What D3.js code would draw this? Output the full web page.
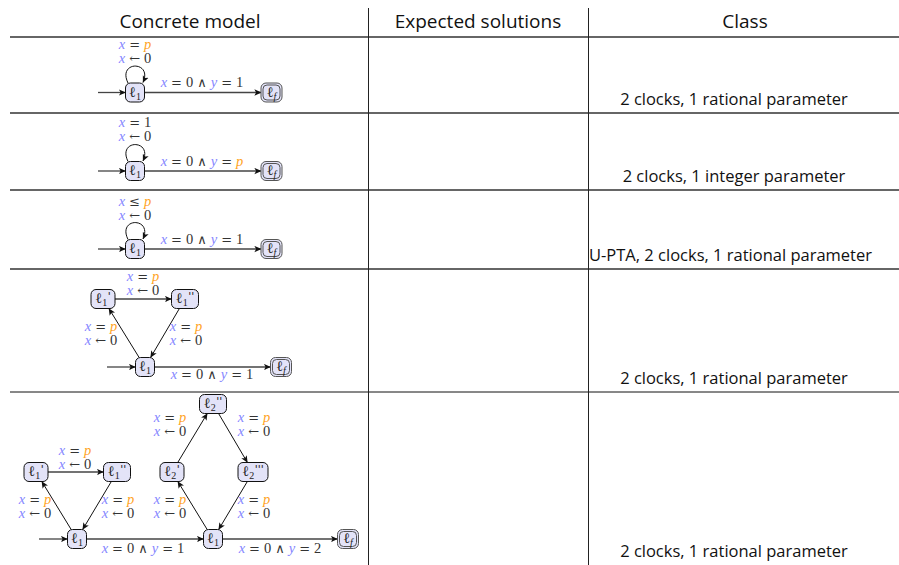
<!DOCTYPE html>
<html><head><meta charset="utf-8">
<script src="https://cdn.jsdelivr.net/npm/d3@7"></script>
<style>body{margin:0;background:#fff}svg{display:block}</style>
</head><body>
<svg id="c" width="899" height="565"></svg>
<script>
// ---------- data ----------
const headers = ["Concrete model", "Expected solutions", "Class"];
const classLabels = [
  "2 clocks, 1 rational parameter",
  "2 clocks, 1 integer parameter",
  "U-PTA, 2 clocks, 1 rational parameter",
  "2 clocks, 1 rational parameter",
  "2 clocks, 1 rational parameter"
];
const expectedSolutions = ["", "", "", "", ""];
// nodes: id, subscript, primes, final
const nodes1 = [["l1","1",0,false],["lf","f",0,true]];
const nodes2 = [["l1","1",0,false],["lf","f",0,true]];
const nodes3 = [["l1","1",0,false],["lf","f",0,true]];
const nodes4 = [["a1","1",1,false],["a2","1",2,false],["l1","1",0,false],["lf","f",0,true]];
const nodes5 = [["a1","1",1,false],["a2","1",2,false],["a","1",0,false],["b1","2",1,false],["b2","2",2,false],["b3","2",3,false],["b","1",0,false],["lf","f",0,true]];
// edges: from, to, label lines
const edges1 = [["l1","l1",["x = p","x ← 0"]],["l1","lf",["x = 0 ∧ y = 1"]]];
const edges2 = [["l1","l1",["x = 1","x ← 0"]],["l1","lf",["x = 0 ∧ y = p"]]];
const edges3 = [["l1","l1",["x ≤ p","x ← 0"]],["l1","lf",["x = 0 ∧ y = 1"]]];
const edges4 = [["l1","a1",["x = p","x ← 0"]],["a1","a2",["x = p","x ← 0"]],["a2","l1",["x = p","x ← 0"]],["l1","lf",["x = 0 ∧ y = 1"]]];
const edges5 = [["a","a1",["x = p","x ← 0"]],["a1","a2",["x = p","x ← 0"]],["a2","a",["x = p","x ← 0"]],["a","b",["x = 0 ∧ y = 1"]],
  ["b","b1",["x = p","x ← 0"]],["b1","b2",["x = p","x ← 0"]],["b2","b3",["x = p","x ← 0"]],["b3","b",["x = p","x ← 0"]],["b","lf",["x = 0 ∧ y = 2"]]];

// ---------- layout (positions, not data) ----------
const W = 899, H = 565;
const colX = [10, 368, 588, 899];
const headerX = [190, 478, 745];
const rowY = [37, 113, 190, 269, 392, 565];
const layouts = [
  {init:98, nodes:{l1:[135,92.5],lf:[271.5,92.5]}, labels:[[135,44],[202,82]]},
  {init:98, nodes:{l1:[135,171],lf:[271.5,171]}, labels:[[135,122],[202,161]]},
  {init:98, nodes:{l1:[135,249],lf:[271.5,249]}, labels:[[135,201],[202,239]]},
  {init:107, nodes:{a1:[103,299],a2:[185,299],l1:[145,367],lf:[281,367]},
   labels:[[101,326],[143,276],[186,326],[212,374]]},
  {init:39, nodes:{a1:[36,472],a2:[117,472],a:[77,539],b1:[172,472],b2:[213,404],b3:[253,472],b:[213,539],lf:[348,539]},
   labels:[[35,499],[75,450],[118,499],[143,548],[170,499],[170,417],[254,417],[254,499],[280,548]]}
];
const allNodes = [nodes1,nodes2,nodes3,nodes4,nodes5];
const allEdges = [edges1,edges2,edges3,edges4,edges5];

const SANS = '"Open Sans", "Noto Sans", sans-serif';
const SERIF = '"Liberation Serif", serif';
const OPF = '"DejaVu Serif", serif';
const varColor = {x:"#8585ff", y:"#8585ff", p:"#ffa31f"};

const svg = d3.select("#c");
const defs = svg.append("defs");
defs.append("marker").attr("id","arr").attr("viewBox","0 -5 10 10")
  .attr("refX",9.5).attr("refY",0).attr("markerWidth",7).attr("markerHeight",7)
  .attr("markerUnits","userSpaceOnUse").attr("orient","auto")
  .append("path").attr("d","M0,-4.5L10,0L0,4.5L2.5,0Z").attr("fill","#111");

// ---------- table ----------
const g = svg.append("g");
rowY.slice(0,5).forEach((y,i)=>{
  g.append("line").attr("x1",colX[0]).attr("x2",W).attr("y1",y).attr("y2",y)
    .attr("stroke", i===4 ? "#111" : "#666").attr("stroke-width", i===4 ? 1 : 1.8);
});
[1,2].forEach(i=>{
  g.append("line").attr("x1",colX[i]+0.5).attr("x2",colX[i]+0.5).attr("y1",8).attr("y2",H)
    .attr("stroke","#222").attr("stroke-width",1);
});
headers.forEach((h,i)=>{
  g.append("text").attr("x",headerX[i]).attr("y",28).attr("text-anchor","middle")
    .style("font-family",SANS).style("font-size","19px").attr("fill","#111").text(h);
});
classLabels.forEach((c,i)=>{
  const t = g.append("text").attr("y",rowY[i+1]-8)
    .style("font-family",SANS).style("font-size","16.5px").attr("fill","#111").text(c);
  if (c.length > 32) t.attr("x",colX[2]+1);
  else t.attr("x",734).attr("text-anchor","middle");
});

// ---------- math text ----------
function mathText(parent, str, x, y){
  const t = parent.append("text").attr("x",x).attr("y",y+4.5).attr("text-anchor","middle")
    .style("font-family",SERIF).style("font-size","14.5px");
  str.split(" ").forEach((tok,k)=>{
    const s = t.append("tspan").text(tok);
    if (k>0) s.attr("dx", 4);
    if (/^[a-z]$/.test(tok)) s.style("font-style","italic").attr("fill",varColor[tok]||"#333");
    else if (/^[0-9]$/.test(tok)) s.attr("fill","#333");
    else s.style("font-family",OPF).style("font-size","13px").attr("fill","#333");
  });
  return t;
}

function nodeSize(n){
  const w = n[2]===0 ? (n[3]?21:19) : (n[2]===1?24:(n[2]===2?27:30));
  return [w/2, 9.5];
}
function boundary(p, hs, tx, ty){
  const dx = tx-p[0], dy = ty-p[1];
  const s = Math.min(dx===0?1e9:hs[0]/Math.abs(dx), dy===0?1e9:hs[1]/Math.abs(dy));
  return [p[0]+dx*s, p[1]+dy*s];
}

allNodes.forEach((nodes,r)=>{
  const L = layouts[r];
  const gr = svg.append("g");
  const info = {};
  nodes.forEach(n=>{ info[n[0]] = {pos:L.nodes[n[0]], hs:nodeSize(n), n}; });
  const first = info[nodes.find(n=>n[0]==="l1"||n[0]==="a")[0]];
  gr.append("line").attr("x1",L.init).attr("y1",first.pos[1])
    .attr("x2",first.pos[0]-first.hs[0]).attr("y2",first.pos[1])
    .attr("stroke","#444").attr("stroke-width",1.3).attr("marker-end","url(#arr)");
  allEdges[r].forEach((e,k)=>{
    const A = info[e[0]], B = info[e[1]];
    if (e[0]===e[1]){
      const [cx,cy] = A.pos;
      gr.append("path").attr("d",`M${cx-7},${cy-9.5} C${cx-18},${cy-32} ${cx+18},${cy-32} ${cx+8},${cy-10}`)
        .attr("fill","none").attr("stroke","#111").attr("stroke-width",1).attr("marker-end","url(#arr)");
    } else {
      const p1 = boundary(A.pos,A.hs,B.pos[0],B.pos[1]);
      const p2 = boundary(B.pos,B.hs,A.pos[0],A.pos[1]);
      const horiz = Math.abs(p1[1]-p2[1])<0.5;
      gr.append("line").attr("x1",p1[0]).attr("y1",p1[1]).attr("x2",p2[0]).attr("y2",p2[1])
        .attr("stroke", horiz?"#444":"#111").attr("stroke-width", horiz?1.3:1).attr("marker-end","url(#arr)");
    }
    const lp = L.labels[k];
    e[2].forEach((s,j)=> mathText(gr, s, lp[0], lp[1] + j*14.5));
  });
  nodes.forEach(n=>{
    const I = info[n[0]]; const [cx,cy] = I.pos; const [hw,hh] = I.hs;
    gr.append("rect").attr("x",cx-hw).attr("y",cy-hh).attr("width",2*hw).attr("height",2*hh)
      .attr("rx",5).attr("fill","#e3e3f8").attr("stroke", n[3]?"#555":"#111").attr("stroke-width",1);
    if (n[3]) gr.append("rect").attr("x",cx-hw+2).attr("y",cy-hh+2).attr("width",2*hw-4).attr("height",2*hh-4)
      .attr("rx",4).attr("fill","none").attr("stroke","#555").attr("stroke-width",1);
    const t = gr.append("text").attr("x",cx).attr("y",cy+4).attr("text-anchor","middle")
      .style("font-family",SERIF).style("font-size","14.5px").attr("fill","#222");
    t.append("tspan").text("ℓ");
    t.append("tspan").text(n[1]).style("font-size","10px").attr("dy",3)
      .style("font-style", n[1]==="f"?"italic":"normal");
    if (n[2]>0) t.append("tspan").text("'".repeat(n[2])).style("font-family",'"DejaVu Sans", sans-serif')
      .style("font-size","11px").style("font-style","italic").attr("dy",-6.5).attr("dx",0.5);
  });
});
</script>
</body></html>
